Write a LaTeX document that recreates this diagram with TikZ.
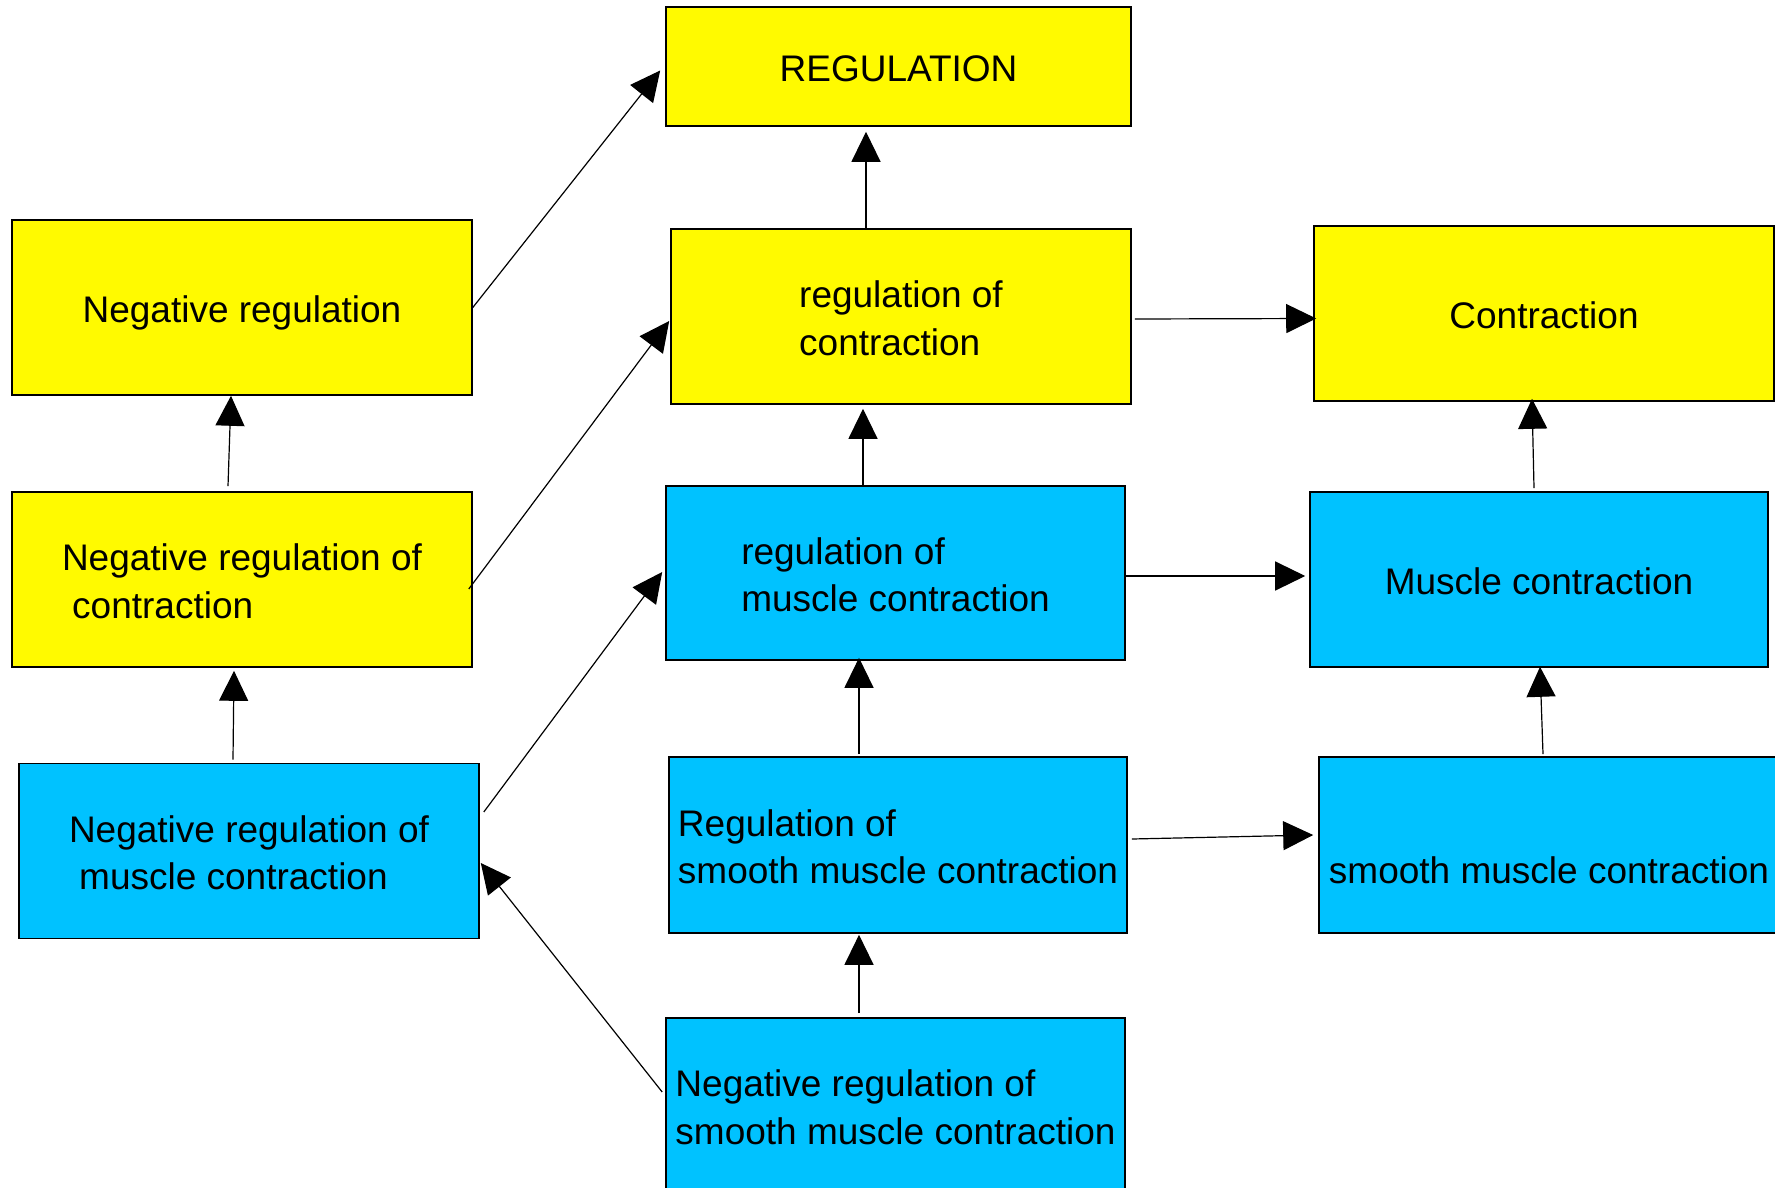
\documentclass[tikz,border=0pt]{standalone}
\usepackage{fontspec}
\setmainfont{Liberation Sans}
\usetikzlibrary{calc,arrows.meta}
\definecolor{yel}{HTML}{FFFA00}
\definecolor{sky}{HTML}{00C2FF}
\newcommand\ls{\rule[-4pt]{0pt}{23pt}}
\begin{document}
\begin{tikzpicture}[x=0.5pt,y=-0.5pt,
  box/.style={draw=black, line width=0.8pt, inner sep=0pt, align=left,
    font=\fontsize{18.5pt}{23.8pt}\selectfont,
    minimum width=230pt, minimum height=87.5pt},
  ybox/.style={box, fill=yel},
  bbox/.style={box, fill=sky},
  conn/.style={line width=0.6pt, -{Triangle[length=15pt,width=14.5pt]}}]
\useasboundingbox (0,0) rectangle (1775,1187);
\clip (0,0) rectangle (1775,1187);
% nodes
\node[ybox, minimum width=232.5pt, minimum height=59.5pt] (reg) at (898.5,66.5) {\ls REGULATION};
\node[ybox] (negreg) at (242,307.5) {\ls Negative regulation};
\node[ybox] (regcon) at (901,316.5) {\ls regulation of\\\ls contraction};
\node[ybox] (contr) at (1544,313.5) {\ls Contraction};
\node[ybox] (negregcon) at (242,579.5) {\ls Negative regulation of\\\ls\hspace*{5.1pt}contraction};
\node[bbox, minimum width=229.5pt, minimum height=87pt] (regmus) at (895.5,573) {\ls regulation of\\\ls muscle contraction};
\node[bbox, minimum width=229pt] (muscon) at (1539,579.5) {\ls Muscle contraction};
\node[bbox] (negregmus) at (249,851) {\ls Negative regulation of\\\ls\hspace*{5.1pt}muscle contraction};
\node[bbox, minimum width=229pt, minimum height=88pt] (regsmooth) at (898,845) {\ls Regulation of\\\ls smooth muscle contraction};
\node[bbox, minimum height=88pt] (smooth) at (1549,845) {\ls\\\ls smooth muscle contraction};
\node[bbox, minimum width=229.5pt] (negregsmooth) at (895.5,1105.5) {\ls Negative regulation of\\\ls smooth muscle contraction};
% connectors
\draw[conn] (negreg.east) -- ($(reg.west)+(-5,4)$);
\draw[conn] ($(regcon.north)+(-35,0)$) -- ($(reg.south)+(-32.5,5)$);
\draw[conn] ($(negregcon.north)+(-14,-5)$) -- ($(negreg.south)+(-11,0)$);
\draw[conn] ($(negregcon.east)+(-4,9.5)$) -- ($(regcon.west)+(-1,4.5)$);
\draw[conn] ($(regcon.east)+(3,2.5)$) -- ($(contr.west)+(3,5)$);
\draw[conn] ($(regmus.north)+(-32.5,0)$) -- ($(regcon.south)+(-38,4)$);
\draw[conn] ($(muscon.north)+(-5,-3)$) -- ($(contr.south)+(-12,-3)$);
\draw[conn] ($(regmus.east)+(0,3)$) -- ($(muscon.west)+(-4,-3.5)$);
\draw[conn] ($(negregmus.north)+(-16,-3)$) -- ($(negregcon.south)+(-8,3)$);
\draw[conn] ($(negregmus.east)+(4,-39)$) -- ($(regmus.west)+(-3,-1)$);
\draw[conn] ($(regsmooth.north)+(-39,-2)$) -- ($(regmus.south)+(-36.5,-3)$);
\draw[conn] ($(regsmooth.east)+(4,-6)$) -- ($(smooth.west)+(-5,-10)$);
\draw[conn] ($(smooth.north)+(-6,-2)$) -- ($(muscon.south)+(1,-1)$);
\draw[conn] ($(negregsmooth.west)+(-3,-13.5)$) -- ($(negregmus.east)+(1,12)$);
\draw[conn] ($(negregsmooth.north)+(-36.5,-4)$) -- ($(regsmooth.south)+(-39,1)$);
\end{tikzpicture}
\end{document}
